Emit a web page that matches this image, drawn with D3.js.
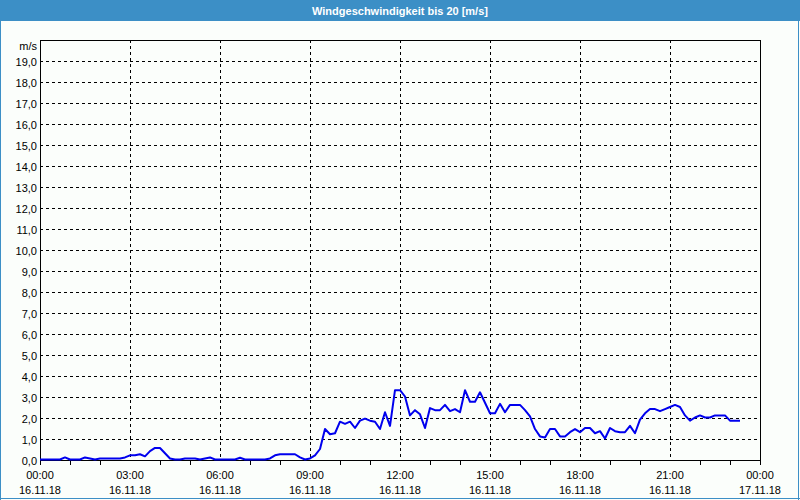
<!DOCTYPE html>
<html><head><meta charset="utf-8">
<script src="https://cdn.jsdelivr.net/npm/d3@7"></script>
<style>
html,body{margin:0;padding:0;background:#fbfefb;}
svg{display:block;}
text{font-family:"Liberation Sans",Arial,sans-serif;}
</style></head>
<body>
<svg id="chart" width="800" height="500"></svg>
<script>
// ---- data ----
const title = "Windgeschwindigkeit bis 20 [m/s]";
const unitLabel = "m/s";
const startTime = "00:00";           // first sample, 10-minute interval
const stepMinutes = 10;
const windSpeed = [
  0,0,0,0,0,0.1,
  0,0,0,0.1,0.05,0,
  0.05,0.05,0.05,0.05,0.05,0.1,
  0.2,0.2,0.25,0.15,0.4,0.55,
  0.55,0.3,0.05,0,0,0.05,
  0.05,0.05,0,0.05,0.1,0,
  0,0,0,0,0.08,0,
  0,0,0,0,0.05,0.2,
  0.25,0.25,0.25,0.25,0.1,0,
  0.05,0.2,0.5,1.45,1.2,1.25,
  1.8,1.7,1.8,1.5,1.85,1.95,
  1.85,1.8,1.45,2.25,1.6,3.3,
  3.3,3.0,2.1,2.35,2.15,1.5,
  2.45,2.35,2.35,2.6,2.3,2.4,
  2.25,3.3,2.75,2.75,3.2,2.7,
  2.2,2.2,2.65,2.25,2.6,2.6,
  2.6,2.35,2.05,1.45,1.1,1.05,
  1.45,1.45,1.1,1.1,1.3,1.45,
  1.3,1.5,1.5,1.25,1.35,1.0,
  1.5,1.35,1.3,1.3,1.6,1.25,
  1.9,2.2,2.4,2.4,2.3,2.4,
  2.5,2.6,2.5,2.1,1.85,2.0,
  2.1,2.0,2.0,2.1,2.1,2.1,
  1.85,1.85,1.85
];
const xTickHours = [0,3,6,9,12,15,18,21,24];
const xTickTimes = ["00:00","03:00","06:00","09:00","12:00","15:00","18:00","21:00","00:00"];
const xTickDates = ["16.11.18","16.11.18","16.11.18","16.11.18","16.11.18","16.11.18","16.11.18","16.11.18","17.11.18"];
const yTicks = [0,1,2,3,4,5,6,7,8,9,10,11,12,13,14,15,16,17,18,19];
const yMax = 20;

// ---- layout ----
const W = 800, H = 500;
const m = {left:40, right:40, top:40, bottom:40};
const svg = d3.select("#chart");

const startH = +startTime.split(":")[0] + (+startTime.split(":")[1])/60;
const pts = windSpeed.map((v,i)=>({h:startH + i*stepMinutes/60, v}));

const x = d3.scaleLinear().domain([0,24]).range([m.left, W-m.right]);
const y = d3.scaleLinear().domain([0,yMax]).range([H-m.bottom, m.top]);

// background
svg.append("rect").attr("x",0).attr("y",0).attr("width",W).attr("height",H).attr("fill","#fbfefb");
// title bar
svg.append("rect").attr("x",0).attr("y",0).attr("width",W).attr("height",21).attr("fill","#3c8fc6");
svg.append("text").attr("x",W/2).attr("y",15).attr("text-anchor","middle")
  .attr("fill","#ffffff").attr("font-weight","bold").attr("font-size","11px").text(title);
// window border
svg.append("line").attr("x1",0.5).attr("x2",0.5).attr("y1",21).attr("y2",H).attr("stroke","#3c8fc6");
svg.append("line").attr("x1",W-1.5).attr("x2",W-1.5).attr("y1",21).attr("y2",H).attr("stroke","#3c8fc6").attr("stroke-width",1);
svg.append("line").attr("x1",0).attr("x2",W).attr("y1",H-1.5).attr("y2",H-1.5).attr("stroke","#3c8fc6");

// grid
const grid = svg.append("g").attr("stroke","#000").attr("stroke-width",1).attr("stroke-dasharray","3,3").attr("shape-rendering","crispEdges");
yTicks.filter(d=>d>0).forEach(d=>{
  grid.append("line").attr("x1",x(0)).attr("x2",x(24)).attr("y1",Math.round(y(d))+0.5).attr("y2",Math.round(y(d))+0.5);
});
xTickHours.filter(d=>d>0 && d<24).forEach(d=>{
  grid.append("line").attr("y1",y(yMax)).attr("y2",y(0)).attr("x1",Math.round(x(d))+0.5).attr("x2",Math.round(x(d))+0.5);
});

// frame
svg.append("rect").attr("x",x(0)+0.5).attr("y",y(yMax)+0.5).attr("width",x(24)-x(0)).attr("height",y(0)-y(yMax))
  .attr("fill","none").attr("stroke","#000").attr("shape-rendering","crispEdges");

// minor hourly ticks
const minor = d3.range(0,25).filter(h=>h%3!==0 || h===0 || h===24);
svg.append("g").selectAll("line").data(minor).join("line")
  .attr("x1",d=>Math.round(x(d))+0.5).attr("x2",d=>Math.round(x(d))+0.5)
  .attr("y1",y(0)).attr("y2",y(0)+5).attr("stroke","#000").attr("shape-rendering","crispEdges");

// y labels
const fmt = d=>d.toFixed(1).replace(".",",");
svg.append("g").selectAll("text").data(yTicks).join("text")
  .attr("x",37).attr("y",d=>y(d)+5).attr("text-anchor","end").attr("font-size","11px").attr("fill","#000")
  .text(fmt);
svg.append("text").attr("x",37).attr("y",50).attr("text-anchor","end").attr("font-size","11px").text(unitLabel);

// x labels
const xl = svg.append("g");
xTickHours.forEach((h,i)=>{
  xl.append("text").attr("x",x(h)).attr("y",479).attr("text-anchor","middle").attr("font-size","11px").text(xTickTimes[i]);
  xl.append("text").attr("x",x(h)).attr("y",494).attr("text-anchor","middle").attr("font-size","11px").text(xTickDates[i]);
});

// line
const line = d3.line().x(d=>x(d.h)).y(d=>y(d.v)-0.5);
svg.append("path").datum(pts).attr("d",line).attr("fill","none")
  .attr("stroke","#0000ee").attr("stroke-width",2).attr("stroke-linejoin","round");
</script>
</body></html>
